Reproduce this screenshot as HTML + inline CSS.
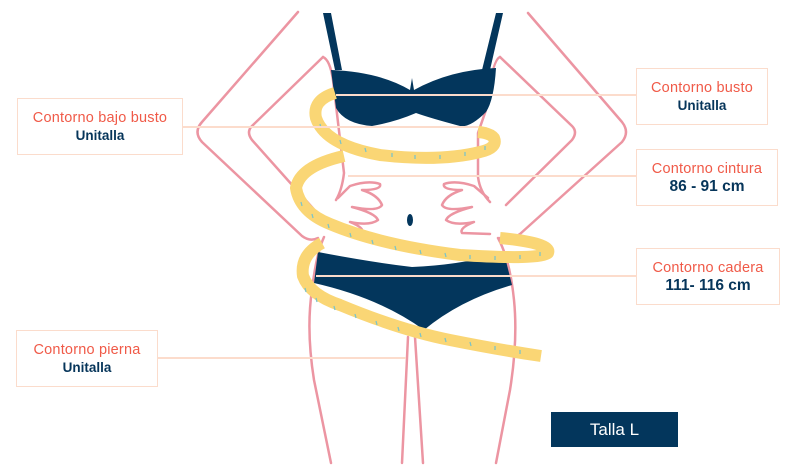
<!DOCTYPE html>
<html><head><meta charset="utf-8"><style>
body{margin:0;width:800px;height:474px;background:#fff;overflow:hidden;position:relative;font-family:"Liberation Sans",sans-serif}
.box{position:absolute;border:1.5px solid #fbdccc;background:#fff;text-align:center;box-sizing:border-box}
.r{color:#f05a48;font-size:14.5px;line-height:18px;margin-top:10px;letter-spacing:0.2px}
.n{color:#06355a;font-size:13.5px;line-height:18px;font-weight:bold}
.n.b{font-size:15.5px}
svg{position:absolute;left:0;top:0}
</style></head><body>
<svg width="800" height="474" viewBox="0 0 800 474">
<g fill="none" stroke="#ec95a2" stroke-width="2.5" stroke-linejoin="round" stroke-linecap="round">
<path d="M298 12 L202 122 Q193 132 202 142 L302 236 Q310 242 318 238"/>
<path d="M323 57 L252 126 Q246 132 252 140 L318 214"/>
<path d="M323 57 Q330 60 333 80 L344 173 Q342 190 336 200"/>
<path d="M324 237 Q316 255 312 290 Q306 330 314 380 L331 463"/>
<path d="M528 13 L622 122 Q630 132 622 142 L520 234 Q512 240 500 238"/>
<path d="M500 57 L572 126 Q578 132 572 140 L506 205"/>
<path d="M500 57 Q492 60 486 110 L478 133 L478 177 Q480 192 490 202"/>
<path d="M498 238 Q510 260 514 300 Q518 340 510 390 L496 463"/>
<path d="M408 337 L402 463 M415 337 L423 463"/>
<path d="M338 198 L350 186 Q368 180 380 184 Q382 190 362 190 Q378 195 382 205 Q378 212 352 207 Q375 213 378 220 Q370 226 350 222 Q365 228 362 233 L340 232"/>
<path d="M488 198 L474 186 Q456 180 444 184 Q442 190 462 190 Q446 195 442 205 Q446 212 472 207 Q449 213 446 220 Q454 226 474 222 Q459 228 462 233 L490 234"/>
</g>
<path d="M323 13 L331 13 L342 70 L335 70Z M496 13 L503 13 L490 70 L482 70Z" fill="#03365c"/>
<path d="M331 70 Q380 72 410 90 L412 78 L414 90 Q450 70 496 68 Q494 100 486 112 Q470 128 460 126 Q430 118 416 113 Q395 122 372 126 Q345 124 336 108 Z" fill="#03365c"/>
<path d="M318 252 Q370 262 412 267 Q460 265 504 253 L512 285 Q460 300 424 330 Q380 298 314 283 Z" fill="#03365c"/>
<ellipse cx="410" cy="220" rx="3" ry="6" fill="#03365c"/>
<g fill="none" stroke="#fad675" stroke-width="12" stroke-linejoin="round">
<path d="M335 93 Q312 100 316 118 Q325 145 380 155 Q440 162 480 152 Q498 148 494 138 Q490 133 478 132"/>
<path d="M344 156 Q300 166 296 188 Q300 212 330 224 Q380 245 460 255 Q540 260 548 253 Q552 243 500 238"/>
<path d="M322 243 Q300 255 303 276 Q310 295 340 305 Q400 330 450 340 Q500 350 541 356"/>
</g>
<g stroke="#7cc4c8" stroke-width="1.3">
<path d="M320 124l1 4M340 140l1 4M365 148l1 4M392 153l0 4M415 155l0 4M440 155l0 4M465 152l0 4M485 146l0 4"/>
<path d="M301 202l1 4M312 214l1 4M328 224l1 4M350 233l1 4M372 240l1 4M395 246l1 4M420 250l1 4M445 253l1 4M470 255l0 4M495 256l0 4M520 255l0 4M540 252l0 4"/>
<path d="M305 288l1 4M316 298l1 4M334 306l1 4M355 314l1 4M376 321l1 4M398 327l1 4M420 333l1 4M445 338l1 4M470 342l1 4M495 346l0 4M520 350l0 4"/>
</g>
<g stroke="#fcdccc" stroke-width="2">
<line x1="182" y1="127" x2="478" y2="127"/>
<line x1="336" y1="95" x2="636" y2="95"/>
<line x1="348" y1="176" x2="636" y2="176"/>
<line x1="316" y1="276" x2="636" y2="276"/>
<line x1="157" y1="358" x2="406" y2="358"/>
</g>
</svg>
<div class="box" style="left:17px;top:98px;width:166px;height:57px"><div class="r">Contorno bajo busto</div><div class="n">Unitalla</div></div>
<div class="box" style="left:636px;top:68px;width:132px;height:57px"><div class="r">Contorno busto</div><div class="n">Unitalla</div></div>
<div class="box" style="left:636px;top:149px;width:142px;height:57px"><div class="r">Contorno cintura</div><div class="n b">86 - 91 cm</div></div>
<div class="box" style="left:636px;top:248px;width:144px;height:57px"><div class="r">Contorno cadera</div><div class="n b">111- 116 cm</div></div>
<div class="box" style="left:16px;top:330px;width:142px;height:57px"><div class="r">Contorno pierna</div><div class="n">Unitalla</div></div>
<div style="position:absolute;left:551px;top:412px;width:127px;height:35px;background:#03365c;color:#fff;font-size:17px;line-height:35px;text-align:center">Talla L</div>
</body></html>
